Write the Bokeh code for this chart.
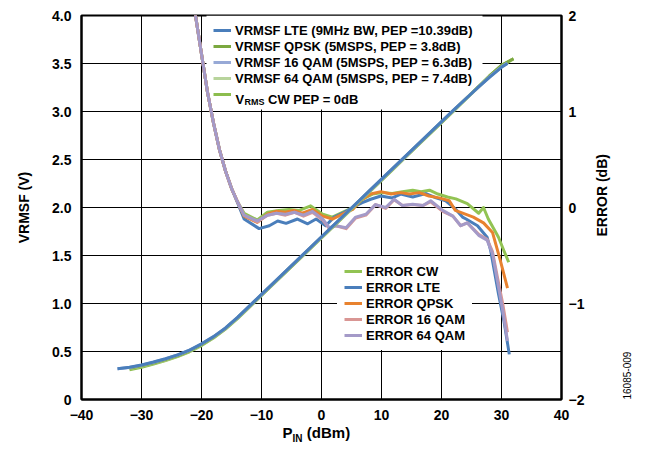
import math
from bokeh.plotting import figure
from bokeh.models import (Range1d, LinearAxis, FixedTicker, Legend, LegendItem)
from bokeh.core.properties import value
from bokeh.embed import file_html
from bokeh.resources import INLINE

FONT = "Liberation Sans"

# ---------------- data ----------------
x_ticks = [-40, -30, -20, -10, 0, 10, 20, 30, 40]
v_ticks = [0, 0.5, 1.0, 1.5, 2.0, 2.5, 3.0, 3.5, 4.0]
e_ticks = [-2, -1, 0, 1, 2]

# VRMSF curves (V) versus PIN (dBm)
p_v = [-34, -32, -30, -28, -26, -24, -22, -20, -18, -16, -14, -12, -10, -8, -6, -4, -2,
       0, 2, 4, 6, 8, 10, 12, 14, 16, 18, 20, 22, 24, 26, 28, 30, 31]
v_lte = [0.32, 0.335, 0.36, 0.39, 0.425, 0.465, 0.515, 0.58, 0.655, 0.745, 0.855, 0.975,
         1.095, 1.215, 1.335, 1.455, 1.575, 1.695, 1.815, 1.935, 2.055, 2.175, 2.295,
         2.415, 2.535, 2.655, 2.775, 2.895, 3.015, 3.13, 3.245, 3.355, 3.46, 3.50]
v_16qam = [0.32, 0.334, 0.358, 0.388, 0.423, 0.463, 0.513, 0.578, 0.653, 0.743, 0.853, 0.973,
           1.093, 1.213, 1.333, 1.453, 1.573, 1.693, 1.813, 1.933, 2.053, 2.173, 2.293,
           2.413, 2.533, 2.653, 2.773, 2.893, 3.013, 3.13, 3.245, 3.36, 3.465, 3.505]
p_v2 = [-32, -30, -28, -26, -24, -22, -20, -18, -16, -14, -12, -10, -8, -6, -4, -2,
        0, 2, 4, 6, 8, 10, 12, 14, 16, 18, 20, 22, 24, 26, 28, 30, 32]
v_qpsk = [0.325, 0.35, 0.38, 0.415, 0.455, 0.505, 0.57, 0.648, 0.74, 0.85, 0.97,
          1.09, 1.21, 1.33, 1.45, 1.57, 1.69, 1.81, 1.93, 2.05, 2.17, 2.29,
          2.41, 2.53, 2.65, 2.77, 2.89, 3.01, 3.13, 3.25, 3.37, 3.48, 3.55]
v_64qam = [0.322, 0.347, 0.377, 0.412, 0.452, 0.502, 0.567, 0.645, 0.737, 0.847, 0.967,
           1.087, 1.207, 1.327, 1.447, 1.567, 1.687, 1.807, 1.927, 2.047, 2.167, 2.287,
           2.407, 2.527, 2.647, 2.767, 2.887, 3.007, 3.128, 3.248, 3.368, 3.478, 3.548]
v_cw = [0.31, 0.335, 0.368, 0.405, 0.447, 0.497, 0.562, 0.64, 0.733, 0.843, 0.963,
        1.083, 1.203, 1.323, 1.443, 1.563, 1.683, 1.803, 1.923, 2.043, 2.163, 2.283,
        2.403, 2.523, 2.643, 2.763, 2.883, 3.003, 3.125, 3.245, 3.37, 3.48, 3.55]

# error curves (dB) versus PIN (dBm)
p_e_cw = [-22, -21, -20, -19, -18, -17, -16, -15, -14, -12.9, -10.7, -9, -7.1, -5.4, -3.7,
          -1.8, 0.2, 1.8, 3.5, 5.2, 6.8, 8.5, 10.2, 11.8, 13.5, 15.2, 16.6, 18, 19.4, 21,
          22.4, 24.3, 26.2, 27, 27.8, 29.5, 30.4, 31.2]
e_cw = [2.4, 2.0, 1.6, 1.2, 0.88, 0.6, 0.38, 0.2, 0.06, -0.06, -0.13, -0.05, -0.03, -0.02,
        -0.03, 0.017, -0.07, -0.1, -0.05, 0.0, 0.086, 0.14, 0.155, 0.145, 0.165, 0.18,
        0.165, 0.18, 0.14, 0.11, 0.09, 0.04, -0.06, 0.0, -0.12, -0.31, -0.45, -0.57]

p_e_lte = [-22, -21, -20, -19, -18, -17, -16, -15, -14, -12.9, -10.4, -8.7, -7.3, -5.9, -4,
           -2.3, -0.9, 0.7, 2.1, 3.8, 5.2, 6.8, 8.2, 9.9, 11.8, 13.2, 15.2, 17.4, 19.1, 20.7,
           22.4, 23.5, 24.1, 26, 27.6, 28.2, 29.5, 30.4, 31.3]
e_lte = [2.4, 2.0, 1.6, 1.2, 0.88, 0.6, 0.38, 0.2, 0.05, -0.12, -0.22, -0.19, -0.14, -0.165,
         -0.12, -0.17, -0.12, -0.19, -0.1, -0.05, 0.0, 0.05, 0.086, 0.12, 0.1, 0.14, 0.11,
         0.145, 0.1, 0.07, -0.02, -0.1, -0.12, -0.19, -0.31, -0.45, -0.9, -1.18, -1.53]

p_e_qpsk = [-22, -21, -20, -19, -18, -17, -16, -15, -14, -12.9, -10.7, -9, -7.6, -6, -4.6,
            -3.2, -1.5, 0.2, 1.8, 3.5, 5.2, 6.6, 8.2, 9.9, 11.6, 13.2, 14.6, 16.3, 17.9, 19.6,
            21.3, 22.3, 25.3, 27, 28.5, 29.8, 31]
e_qpsk = [2.4, 2.0, 1.6, 1.2, 0.88, 0.6, 0.38, 0.2, 0.06, -0.09, -0.155, -0.07, -0.04, -0.05,
          -0.03, -0.06, -0.02, -0.09, -0.12, -0.07, -0.02, 0.076, 0.14, 0.165, 0.14, 0.155,
          0.14, 0.155, 0.12, 0.1, 0.07, -0.03, -0.1, -0.16, -0.26, -0.55, -0.84]

p_e_16qam = [-22, -21, -20, -19, -18, -17, -16, -15, -14, -12.9, -10.7, -9, -7.5, -6, -4.5,
             -3, -1.5, 0.2, 1.3, 2.4, 4.1, 5.7, 7.4, 9, 10.7, 12.1, 13.5, 15.2, 16.9, 18.2,
             20.2, 21.9, 23.2, 24.3, 26.2, 27.6, 28.5, 29.3, 30.2, 31]
e_16qam = [2.4, 2.0, 1.6, 1.2, 0.88, 0.6, 0.38, 0.2, 0.06, -0.08, -0.15, -0.08, -0.06, -0.08,
           -0.05, -0.09, -0.05, -0.13, -0.22, -0.19, -0.22, -0.11, -0.08, 0.03, -0.01, 0.08,
           0.02, 0.03, 0.02, 0.06, -0.04, -0.09, -0.19, -0.16, -0.28, -0.33, -0.46, -0.72,
           -1.0, -1.3]

p_e_64qam = [-22, -21, -20, -19, -18, -17, -16, -15, -14, -12.9, -10.7, -9, -7.5, -6, -4.5,
             -3, -1.5, 0.2, 1.3, 2.4, 4.1, 5.7, 7.4, 9, 10.7, 12.1, 13.5, 15.2, 16.9, 18.2,
             20.2, 21.9, 23.2, 24.3, 26.2, 27.6, 28.5, 29.3, 30.2, 31]
e_64qam = [2.4, 2.0, 1.6, 1.2, 0.88, 0.6, 0.38, 0.2, 0.06, -0.08, -0.14, -0.08, -0.06, -0.07,
           -0.05, -0.08, -0.04, -0.12, -0.21, -0.19, -0.21, -0.1, -0.07, 0.03, 0.0, 0.086,
           0.02, 0.035, 0.02, 0.07, -0.03, -0.09, -0.19, -0.16, -0.29, -0.34, -0.48, -0.76,
           -1.07, -1.39]

v_labels = ["VRMSF LTE (9MHz BW, PEP =10.39dB)", "VRMSF QPSK (5MSPS, PEP = 3.8dB)",
            "VRMSF 16 QAM (5MSPS, PEP = 6.3dB)", "VRMSF 64 QAM (5MSPS, PEP = 7.4dB)"]
cw_label = ["V", "RMS", "CW PEP = 0dB"]
e_labels = ["ERROR CW", "ERROR LTE", "ERROR QPSK", "ERROR 16 QAM", "ERROR 64 QAM"]
x_title = ["P", "IN", "(dBm)"]
y_title = "VRMSF (V)"
y2_title = "ERROR (dB)"
fig_id = "16085-009"

# ---------------- layout (pixels) ----------------
FL, FT, FW, FH = 81, 15, 480, 384   # frame left/top/width/height in the page

def dx(px):   # page x pixel -> data x
    return -40 + (px - FL) * 80.0 / FW

def dy(py):   # page y pixel -> VRMSF data y
    return (FT + FH - py) * 4.0 / FH

def de(py):   # page y pixel -> error data y
    return -2 + (FT + FH - py) * 4.0 / FH

p = figure(frame_width=FW, frame_height=FH, output_backend="svg", toolbar_location=None,
           x_range=Range1d(-40, 40), y_range=Range1d(0, 4),
           min_border_left=FL, min_border_right=89, min_border_top=FT, min_border_bottom=53)
p.extra_y_ranges = {"err": Range1d(-2, 2)}
p.outline_line_color = "black"
p.outline_line_width = 2
p.background_fill_color = "white"

def style_axis(ax, standoff, size="14px", bold=True):
    ax.axis_line_color = "black"
    ax.axis_line_width = 2
    ax.major_tick_in = 0
    ax.major_tick_out = 0
    ax.minor_tick_in = 0
    ax.minor_tick_out = 0
    ax.major_label_text_font = FONT
    ax.major_label_text_font_style = "bold" if bold else "normal"
    ax.major_label_text_font_size = size
    ax.major_label_text_color = "black"
    ax.major_label_standoff = standoff

def minus(v):
    s = f"{abs(v):g}"
    return ("\u2212" + s) if v < 0 else s

xa = p.xaxis[0]
xa.ticker = FixedTicker(ticks=x_ticks)
xa.major_label_overrides = {t: minus(t) for t in x_ticks}
style_axis(xa, 10)

ya = p.yaxis[0]
ya.ticker = FixedTicker(ticks=v_ticks)
ya.major_label_overrides = {t: ("0" if t == 0 else f"{t:.1f}") for t in v_ticks}
style_axis(ya, 10)
ya.axis_label = y_title
ya.axis_label_text_font = FONT
ya.axis_label_text_font_style = "bold"
ya.axis_label_text_font_size = "14px"
ya.axis_label_text_color = "black"
ya.axis_label_standoff = 17

ra = LinearAxis(y_range_name="err", ticker=FixedTicker(ticks=e_ticks))
ra.major_label_overrides = {t: minus(t) for t in e_ticks}
style_axis(ra, 7)
p.add_layout(ra, "right")

def text_axis(side, ticks, labels, size, bold, standoff, orient=None, range_name=None):
    kw = {"y_range_name": range_name} if range_name else {}
    ax = LinearAxis(ticker=FixedTicker(ticks=ticks), **kw)
    ax.major_label_overrides = dict(zip(ticks, labels))
    style_axis(ax, standoff, size, bold)
    ax.axis_line_color = None
    ax.major_tick_line_color = None
    ax.minor_tick_line_color = None
    if orient is not None:
        ax.major_label_orientation = orient
    p.add_layout(ax, side)
    return ax

# x-axis title with subscript: two stacked label rows
tP, tD, tI = dx(287), dx(328), dx(297)
text_axis("below", [tP, tD], [x_title[0], x_title[2]], "15px", True, 1)
text_axis("below", [tI], [x_title[1]], "10px", True, -11)
# right-hand title (text starts at the tick and reads upwards)
text_axis("right", [de(236)], [y2_title], "14px", True, 14, math.pi / 2, "err")
# figure number, hanging below the frame bottom
fid = text_axis("right", [-2], [fig_id], "10px", False, 6, math.pi / 2, "err")
fid.major_label_text_align = "right"

p.xgrid.ticker = FixedTicker(ticks=x_ticks)
p.ygrid.ticker = FixedTicker(ticks=v_ticks)
for g in (p.xgrid[0], p.ygrid[0]):
    g.grid_line_color = "black"
    g.grid_line_width = 1

# white panel behind the upper legend
LEG1_L, LEG1_R, LEG1_B = 206, 482, 109
p.quad(left=[dx(LEG1_L)], right=[dx(LEG1_R)], top=[4.0], bottom=[dy(LEG1_B)],
       fill_color="white", line_color=None)

LW = 3
# error curves
r_ecw = p.line(p_e_cw, e_cw, y_range_name="err", line_color="#92C353", line_width=LW, line_join="round")
r_elte = p.line(p_e_lte, e_lte, y_range_name="err", line_color="#4A7EBB", line_width=LW, line_join="round")
r_eqpsk = p.line(p_e_qpsk, e_qpsk, y_range_name="err", line_color="#E8822F", line_width=LW, line_join="round")
r_e16 = p.line(p_e_16qam, e_16qam, y_range_name="err", line_color="#D99694", line_width=LW, line_join="round")
r_e64 = p.line(p_e_64qam, e_64qam, y_range_name="err", line_color="#A49AC8", line_width=LW, line_join="round")

# VRMSF curves
r_vcw = p.line(p_v2, v_cw, line_color="#8CBD4E", line_width=LW, line_join="round")
r_v64 = p.line(p_v2, v_64qam, line_color="#B8D49C", line_width=LW, line_join="round")
r_vqpsk = p.line(p_v2, v_qpsk, line_color="#7BA83F", line_width=LW, line_join="round")
r_v16 = p.line(p_v, v_16qam, line_color="#97A9D6", line_width=LW, line_join="round")
r_vlte = p.line(p_v, v_lte, line_color="#4A7EBB", line_width=LW, line_join="round")

# "V_RMS CW PEP = 0dB" text of the fifth legend row (subscript)
row5 = 98.5
txt_kw = dict(text_font=value(FONT), text_font_style="bold", text_color="black",
              text_baseline="alphabetic", text_align="left")
p.text(x=[dx(235)], y=[dy(row5)], text=[cw_label[0]], text_font_size=value("13px"), **txt_kw)
p.text(x=[dx(244)], y=[dy(row5 + 3)], text=[cw_label[1]], text_font_size=value("9px"), **txt_kw)
p.text(x=[dx(267.5)], y=[dy(row5)], text=[cw_label[2]], text_font_size=value("13px"), **txt_kw)

def make_legend(items, loc, bg_alpha):
    lg = Legend(items=items, location=loc)
    lg.label_text_font = FONT
    lg.label_text_font_style = "bold"
    lg.label_text_font_size = "13px"
    lg.label_text_color = "black"
    lg.glyph_width = 18
    lg.glyph_height = 16
    lg.label_height = 16
    lg.label_standoff = 4
    lg.spacing = 0
    lg.padding = 7
    lg.margin = 0
    lg.border_line_alpha = 0
    lg.background_fill_color = "white"
    lg.background_fill_alpha = bg_alpha
    return lg

leg1 = make_legend([
    LegendItem(label=v_labels[0], renderers=[r_vlte]),
    LegendItem(label=v_labels[1], renderers=[r_vqpsk]),
    LegendItem(label=v_labels[2], renderers=[r_v16]),
    LegendItem(label=v_labels[3], renderers=[r_v64]),
    LegendItem(label=" ", renderers=[r_vcw]),
], (125, 290), 0)
p.add_layout(leg1)

leg2 = make_legend([
    LegendItem(label=e_labels[0], renderers=[r_ecw]),
    LegendItem(label=e_labels[1], renderers=[r_elte]),
    LegendItem(label=e_labels[2], renderers=[r_eqpsk]),
    LegendItem(label=e_labels[3], renderers=[r_e16]),
    LegendItem(label=e_labels[4], renderers=[r_e64]),
], (256, 49), 1)
p.add_layout(leg2)

open("out.html", "w").write(file_html(p, INLINE))
